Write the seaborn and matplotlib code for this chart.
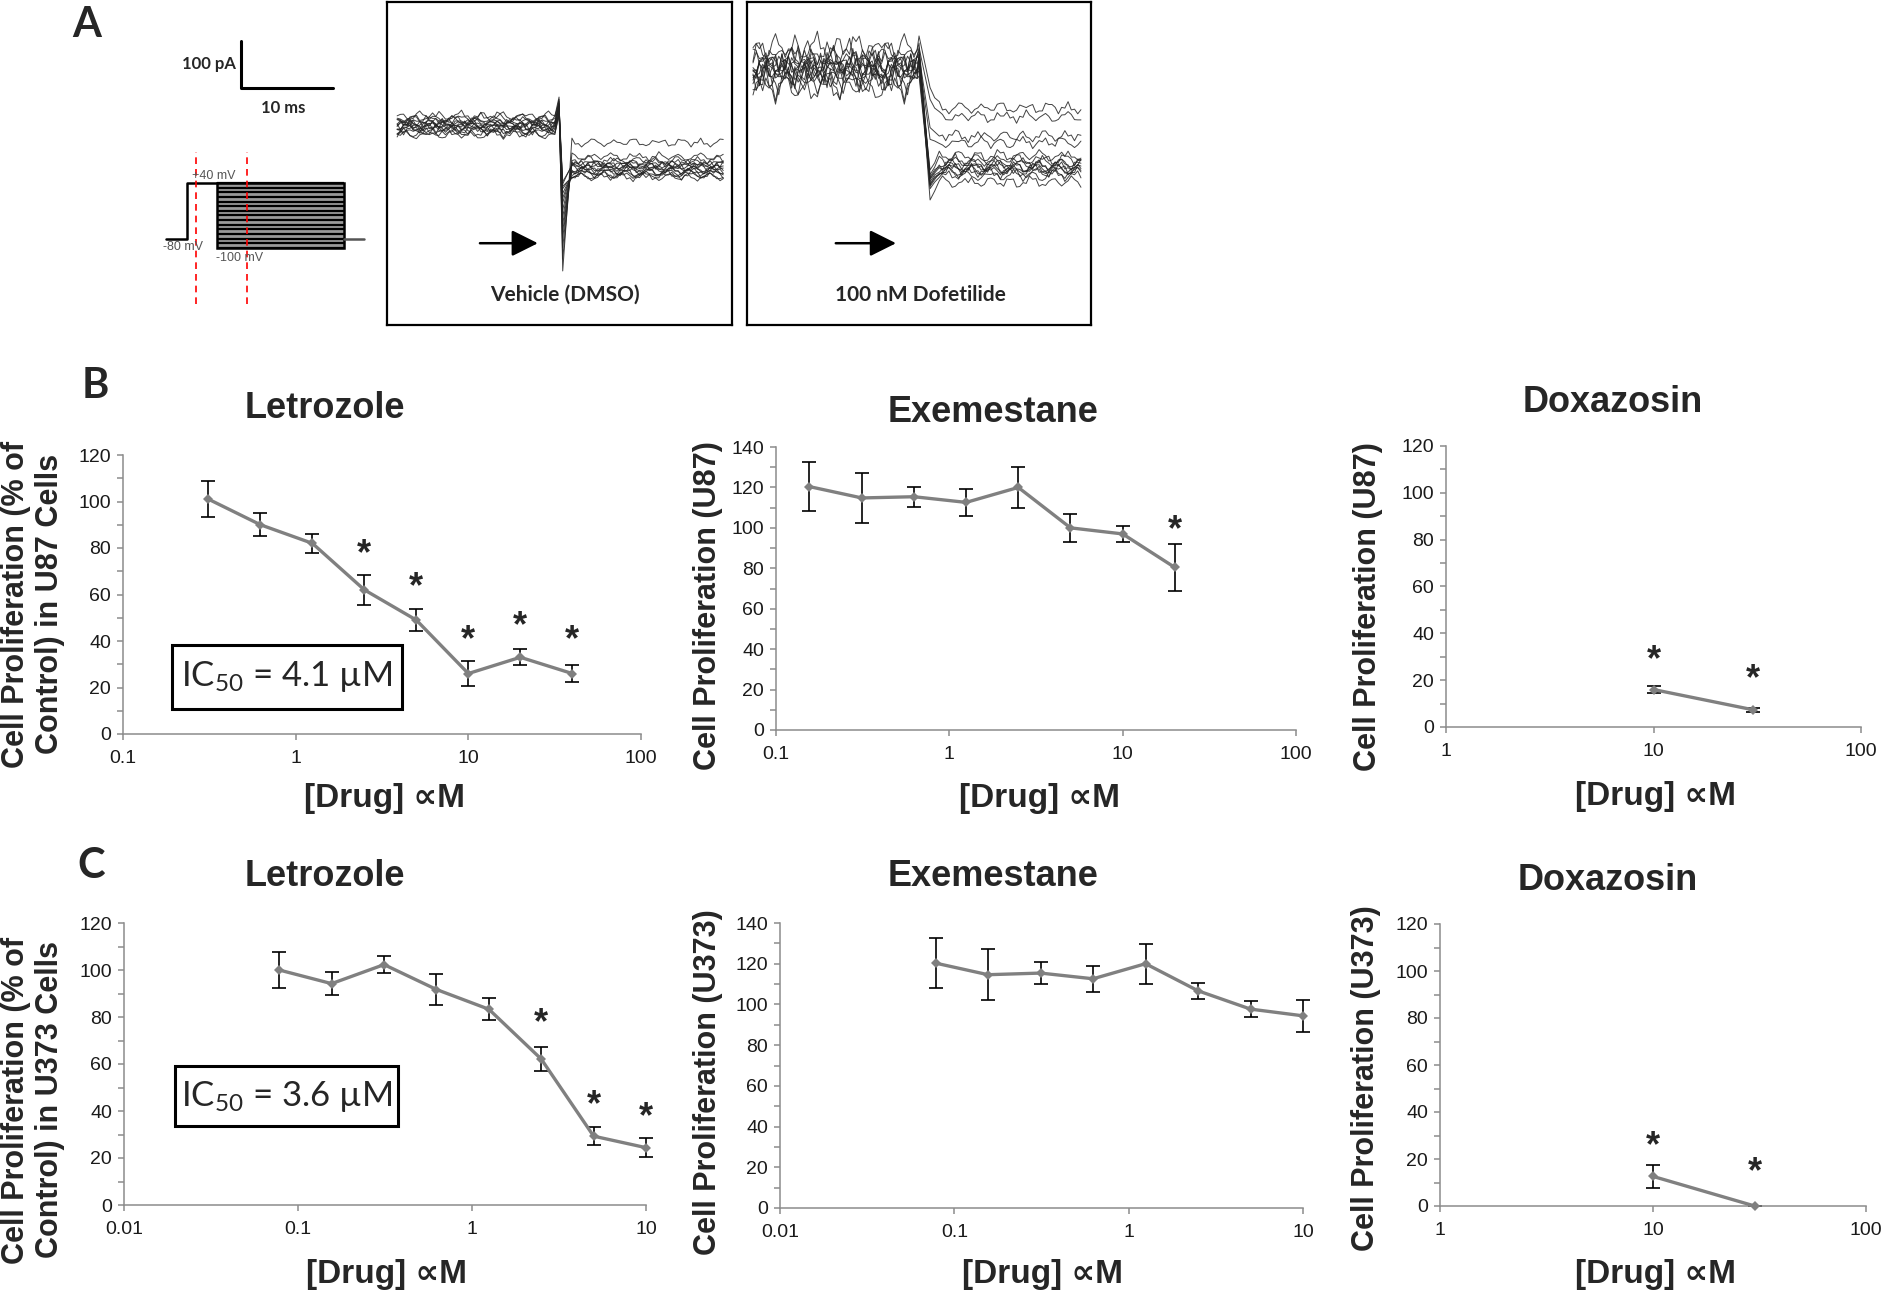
import numpy as np
import matplotlib
matplotlib.use("Agg")
import matplotlib.pyplot as plt
import seaborn as sns
from matplotlib.patches import Rectangle
from matplotlib.ticker import FixedLocator, MultipleLocator, NullLocator

# ---------------- data ----------------
# B: U87 cells
b_let_conc = [0.3125, 0.625, 1.25, 2.5, 5, 10, 20, 40]
b_let_mean = [101, 90, 82, 62, 49, 26, 33, 26]
b_let_err = [7.7, 5, 4, 6.5, 4.8, 5.2, 3.4, 3.8]
b_let_star = [None, None, None, 82, 68, 45, 51, 45]

b_exe_conc = [0.156, 0.3125, 0.625, 1.25, 2.5, 5, 10, 20]
b_exe_mean = [120.4, 114.8, 115.4, 112.6, 120, 100, 97, 80.4]
b_exe_err = [12, 12.3, 5, 6.5, 10.3, 7, 4, 11.5]
b_exe_star = [None, None, None, None, None, None, None, 104]

b_dox_conc = [10, 30]
b_dox_mean = [16, 7.4]
b_dox_err = [1.5, 0.8]
b_dox_star = [33, 25]

# C: U373 cells
c_let_conc = [0.078, 0.156, 0.3125, 0.625, 1.25, 2.5, 5, 10]
c_let_mean = [100, 94.2, 102.3, 91.7, 83.3, 62.1, 29.3, 24.4]
c_let_err = [7.6, 5, 3.5, 6.4, 4.6, 5.1, 3.7, 3.9]
c_let_star = [None, None, None, None, None, 82, 47, 42]

c_exe_conc = [0.078, 0.156, 0.3125, 0.625, 1.25, 2.5, 5, 10]
c_exe_mean = [120.3, 114.6, 115.4, 112.6, 120, 106.7, 97.7, 94.4]
c_exe_err = [12.3, 12.5, 5.4, 6.4, 9.9, 4, 4, 8]
c_exe_star = [None] * 8

c_dox_conc = [10, 30]
c_dox_mean = [12.6, 0]
c_dox_err = [4.8, 0]
c_dox_star = [30, 19]

ic50_b = "IC$_{50}$ = 4.1 µM"
ic50_c = "IC$_{50}$ = 3.6 µM"

# A: voltage protocol (ms, mV)
step_times = [0.0, 2.3, 5.5, 19.3, 21.5]
hold_mv, pre_mv = -80, 40
test_mv = list(range(-100, 41, 10))
cursor_ms = [3.26, 8.8]

# A: current sweeps (pA) - vehicle and dofetilide
wiggle = [0.0, 0.6, 0.2, -0.5, -0.9, -0.3, 0.4, 1.0, 0.5, -0.2,
          -0.7, -0.4, 0.3, 0.8, 0.1, -0.6, -1.0, -0.4, 0.2, 0.7,
          0.9, 0.3, -0.3, -0.8, -0.5, 0.1, 0.6, 0.4, -0.1, -0.6,
          -0.2, 0.5, 1.0, 0.6, -0.1, -0.7, -0.9, -0.3, 0.3, 0.5]
veh_pre = [445, 430, 418, 440, 425, 412, 436, 422, 415, 432, 405, 428, 420, 410, 426]
veh_post = [388, 358, 350, 345, 340, 336, 333, 330, 327, 324, 321, 318, 315, 342, 338]
veh_low = [115, 140, 165, 185, 200, 215, 230, 245, 260, 270, 280, 290, 295, 300, 305]
dof_pre = [590, 565, 548, 540, 525, 560, 545, 515, 552, 538, 575, 505, 543, 530, 555]
dof_post = [462, 443, 402, 388, 360, 352, 346, 341, 337, 334, 331, 328, 324, 318, 304]
dof_low = [505, 480, 420, 395, 330, 320, 315, 312, 310, 305, 300, 298, 295, 290, 266]

# ---------------- style ----------------
sns.set_style("white")
plt.rcParams["font.family"] = ["Liberation Sans", "DejaVu Sans"]
plt.rcParams["mathtext.fontset"] = "custom"
plt.rcParams["mathtext.rm"] = "Lato"
plt.rcParams["mathtext.it"] = "Lato:italic"

LINE = "#808080"
AXC = "#8c8c8c"
W, H = 1894, 1293
fig = plt.figure(figsize=(W / 100, H / 100), dpi=100)


def px_axes(l, t, r, b):
    return fig.add_axes([l / W, 1 - b / H, (r - l) / W, (b - t) / H])


def ftext(x, y, s, **kw):
    fig.text(x / W, 1 - y / H, s, **kw)


# ---------------- panel A ----------------
PX_MS, PX_PA, PX_MV = 9.2, 0.47, 0.464

# protocol schematic
ax = px_axes(150, 140, 380, 310)
ax.set_xlim((150 - 166) / PX_MS, (380 - 166) / PX_MS)
ax.set_ylim(40 - (310 - 183) / PX_MV, 40 + (183 - 140) / PX_MV)
ax.axis("off")
t0, t1, t2, t3, t4 = step_times
ax.plot([t0, t1, t1, t2], [hold_mv, hold_mv, pre_mv, pre_mv], color="black", lw=1.8)
ax.add_patch(Rectangle((t2, min(test_mv)), t3 - t2, max(test_mv) - min(test_mv),
                       facecolor="#9a9a9a", edgecolor="black", lw=1.8))
ax.hlines(test_mv, t2, t3, color="black", lw=1.6)
ax.plot([t3, t4], [hold_mv, hold_mv], color="#555555", lw=1.8)
ax.vlines(cursor_ms, 40 - (304 - 183) / PX_MV, 40 + (183 - 152) / PX_MV,
          color="red", lw=1.2, linestyles=(0, (4, 3)))
lab_kw = dict(fontsize=9, color="#555555", ha="center", va="center")
ax.text(5.2, 55, "+40 mV", **lab_kw)
ax.text(1.85, -98, "-80 mV", **lab_kw)
ax.text(8.0, -121, "-100 mV", **lab_kw)

# scale bar
ax = px_axes(150, 30, 380, 140)
ax.set_xlim(0, 230 / PX_MS)
ax.set_ylim(0, 110 / PX_PA)
ax.axis("off")
cx, cy = (241 - 150) / PX_MS, (140 - 88) / PX_PA
ax.plot([cx, cx, cx + 10], [cy + 100, cy, cy], color="black", lw=2.2)
ax.text(cx - 0.6, cy + 50, "100 pA", ha="right", va="center", fontsize=12,
        fontweight="bold", family="Lato")
ax.text(cx + 4.6, cy - 43, "10 ms", ha="center", va="center", fontsize=12,
        fontweight="bold", family="Lato")


def sweeps(ax, pre, post, low, t_start, t_step, t_end, amp_pre, amp_post, rise, dip_w):
    n = len(wiggle)

    def noise(k, i, off):
        return wiggle[(k + 7 * i + off) % n] + 0.5 * wiggle[(3 * k + 5 * i + off) % n]

    for i in range(len(pre)):
        ta = np.arange(t_start, t_step, 0.35)
        ya = [pre[i] + amp_pre * noise(k, i, 0) for k in range(len(ta))]
        tb = np.arange(t_step + dip_w + 1.0, t_end, 0.35)
        yb = [post[i] + amp_post * noise(k, i, 13) for k in range(len(tb))]
        tt = list(ta) + [t_step + 0.1, t_step + dip_w, t_step + dip_w + 0.5] + list(tb)
        yy = ya + [pre[i] + rise, low[i], (low[i] + post[i]) / 2] + yb
        ax.plot(tt, yy, color="#222222", lw=0.7, alpha=0.85)


def trace_box(l, r, label, lx):
    ax = px_axes(l, 2, r, 325)
    ax.set_xlim(0, (r - l) / PX_MS)
    ax.set_ylim(0, 323 / PX_PA)
    ax.set_xticks([])
    ax.set_yticks([])
    for s in ax.spines.values():
        s.set_visible(True)
        s.set_color("black")
        s.set_linewidth(1.6)
    ax.text(lx, 0.093, label, transform=ax.transAxes, ha="center", va="center",
            fontsize=15, fontweight="bold", family="Lato")
    return ax


ax = trace_box(387, 732, "Vehicle (DMSO)", 0.516)
sweeps(ax, veh_pre, veh_post, veh_low, 1.1, 18.6, 36.8, 9, 8, 40, 0.5)
ax.annotate("", xy=(16.7, 174), xytext=(9.8, 174),
            arrowprops=dict(arrowstyle="-|>,head_length=0.4,head_width=0.2",
                            mutation_scale=40, lw=1.8, color="black"))

ax = trace_box(747, 1091, "100 nM Dofetilide", 0.503)
sweeps(ax, dof_pre, dof_post, dof_low, 0.65, 18.6, 36.5, 26, 11, 25, 1.3)
ax.annotate("", xy=(16.5, 174), xytext=(9.35, 174),
            arrowprops=dict(arrowstyle="-|>,head_length=0.4,head_width=0.2",
                            mutation_scale=40, lw=1.8, color="black"))

# ---------------- panels B and C ----------------
panels = [
    dict(rect=(123, 455, 641, 734), conc=b_let_conc, mean=b_let_mean, err=b_let_err, star=b_let_star,
         xlim=(0.1, 100), ymax=120, title=("Letrozole", 325, 408), xl=(384, 799),
         yl=("Cell Proliferation (% of\nControl) in U87 Cells", 33, 604)),
    dict(rect=(776, 447, 1296, 730), conc=b_exe_conc, mean=b_exe_mean, err=b_exe_err, star=b_exe_star,
         xlim=(0.1, 100), ymax=140, title=("Exemestane", 993, 412), xl=(1039, 799),
         yl=("Cell Proliferation (U87)", 708, 606)),
    dict(rect=(1446, 446, 1861, 727), conc=b_dox_conc, mean=b_dox_mean, err=b_dox_err, star=b_dox_star,
         xlim=(1, 100), ymax=120, title=("Doxazosin", 1613, 403), xl=(1655, 797),
         yl=("Cell Proliferation (U87)", 1368, 607)),
    dict(rect=(124, 923, 646, 1205), conc=c_let_conc, mean=c_let_mean, err=c_let_err, star=c_let_star,
         xlim=(0.01, 10), ymax=120, title=("Letrozole", 325, 877), xl=(386, 1274),
         yl=("Cell Proliferation (% of\nControl) in U373 Cells", 33, 1100)),
    dict(rect=(780, 923, 1303, 1208), conc=c_exe_conc, mean=c_exe_mean, err=c_exe_err, star=c_exe_star,
         xlim=(0.01, 10), ymax=140, title=("Exemestane", 993, 877), xl=(1043, 1274),
         yl=("Cell Proliferation (U373)", 708, 1082)),
    dict(rect=(1440, 924, 1866, 1206), conc=c_dox_conc, mean=c_dox_mean, err=c_dox_err, star=c_dox_star,
         xlim=(1, 100), ymax=120, title=("Doxazosin", 1608, 881), xl=(1655, 1274),
         yl=("Cell Proliferation (U373)", 1366, 1078)),
]

for p in panels:
    ax = px_axes(*p["rect"])
    sns.lineplot(x=p["conc"], y=p["mean"], ax=ax, color=LINE, lw=2.4, marker="D",
                 markersize=5, markeredgewidth=0, sort=False, zorder=3, clip_on=False)
    ax.errorbar(p["conc"], p["mean"], yerr=p["err"], fmt="none", ecolor="black",
                elinewidth=1.2, capsize=5, capthick=1.2, zorder=2, clip_on=False)
    for x, s in zip(p["conc"], p["star"]):
        if s is not None:
            ax.annotate("*", (x, s), xytext=(0, -15), textcoords="offset points",
                        ha="center", va="baseline", fontsize=26, fontweight="bold",
                        annotation_clip=False)
    ax.set_xscale("log")
    ax.set_xlim(*p["xlim"])
    ax.set_ylim(0, p["ymax"])
    lo, hi = p["xlim"]
    decades = [lo * 10 ** k for k in range(int(round(np.log10(hi / lo))) + 1)]
    ax.xaxis.set_major_locator(FixedLocator(decades))
    ax.set_xticklabels(["%g" % d for d in decades])
    ax.xaxis.set_minor_locator(NullLocator())
    ax.yaxis.set_major_locator(MultipleLocator(20))
    ax.yaxis.set_minor_locator(MultipleLocator(10))
    ax.set_facecolor("none")
    for side in ["top", "right"]:
        ax.spines[side].set_visible(False)
    for side in ["left", "bottom"]:
        ax.spines[side].set_color(AXC)
        ax.spines[side].set_linewidth(1.1)
    ax.tick_params(axis="both", which="both", direction="out", color=AXC, width=1.1,
                   length=4.5, labelsize=14, labelcolor="#1a1a1a", pad=4)
    ax.tick_params(axis="x", which="both", bottom=True, pad=7)
    ax.tick_params(axis="y", which="both", left=True)

    t, tx, ty = p["title"]
    ftext(tx, ty, t, ha="center", va="center", fontsize=26, fontweight="bold")
    ftext(p["xl"][0], p["xl"][1], "[Drug] ∝M", ha="center", va="center", fontsize=24,
          fontweight="bold")
    yt, yx, yy = p["yl"]
    ftext(yx, yy, yt, ha="center", va="center", rotation=90, fontsize=22,
          fontweight="bold", linespacing=1.18, multialignment="center")

# IC50 boxes
for (l, t, r, b), s in [((172, 645, 402, 709), ic50_b), ((175, 1066, 398, 1126), ic50_c)]:
    fig.patches.append(Rectangle((l / W, 1 - b / H), (r - l) / W, (b - t) / H,
                                 transform=fig.transFigure, fill=False,
                                 edgecolor="black", lw=2.2))
    ftext((l + r) / 2, (t + b) / 2, s, ha="center", va="center", fontsize=25,
          family="Lato")

# panel letters
for letter, x, y in [("A", 87, 25), ("B", 95, 386), ("C", 91, 866)]:
    ftext(x, y, letter, ha="center", va="center", fontsize=30, fontweight="bold",
          family="Lato")

fig.savefig("out.png", dpi=100)
